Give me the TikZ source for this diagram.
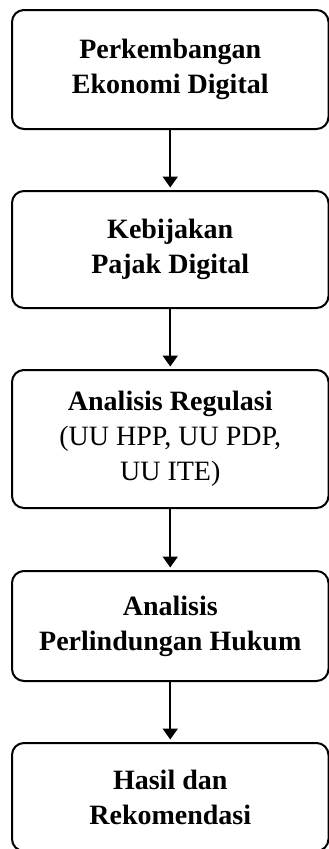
\documentclass[tikz,border=0pt]{standalone}
\usepackage{fontspec}
\setmainfont{Liberation Serif}
\usetikzlibrary{arrows.meta}
\tikzset{
  box/.style={draw=black, line width=2pt, rounded corners=12pt, minimum width=316.5pt,
    align=center, inner sep=0pt, font=\fontsize{28}{35}\selectfont},
  flow/.style={line width=2pt, -{Triangle[width=15pt,length=11pt]}, shorten >=2.5pt}
}
\begin{document}
\begin{tikzpicture}[x=1pt,y=-1pt]
\useasboundingbox (0,0) rectangle (329,849);
\node[box, minimum height=119pt] (b1) at (170.25,69.5) {\textbf{Perkembangan}\\\textbf{Ekonomi Digital}};
\node[box, minimum height=117pt] (b2) at (170.25,249.5) {\textbf{Kebijakan}\\\textbf{Pajak Digital}};
\node[box, minimum height=138pt] (b3) at (170.25,439) {\textbf{Analisis Regulasi}\\(UU HPP, UU PDP,\\UU ITE)};
\node[box, minimum height=110pt] (b4) at (170.25,626) {\textbf{Analisis}\\\textbf{Perlindungan Hukum}};
\node[box, minimum height=108pt] (b5) at (170.25,797) {\textbf{Hasil dan}\\\textbf{Rekomendasi}};
\draw[flow] (b1) -- (b2);
\draw[flow] (b2) -- (b3);
\draw[flow] (b3) -- (b4);
\draw[flow] (b4) -- (b5);
\end{tikzpicture}
\end{document}
